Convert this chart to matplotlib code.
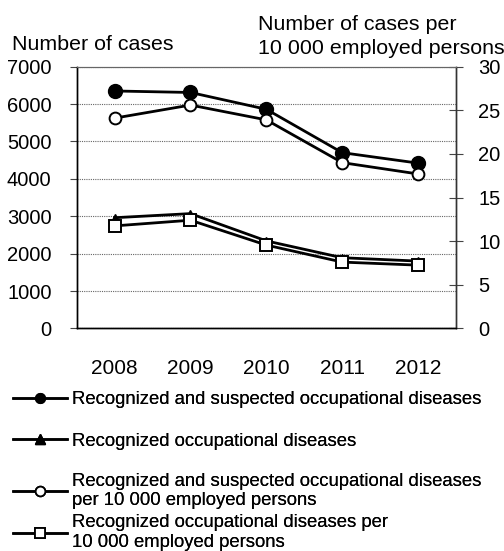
import matplotlib
matplotlib.use("Agg")
import matplotlib.pyplot as plt
from matplotlib.lines import Line2D

plt.rcParams['font.family'] = ['Liberation Sans', 'DejaVu Sans']

years = ["2008", "2009", "2010", "2011", "2012"]
rec_susp = [6350, 6310, 5860, 4700, 4420]
rec = [2960, 3070, 2340, 1890, 1800]
rec_susp_rate = [24.1, 25.6, 23.9, 19.0, 17.7]
rec_rate = [11.75, 12.4, 9.55, 7.6, 7.25]
left_ticks = [0, 1000, 2000, 3000, 4000, 5000, 6000, 7000]
right_ticks = [0, 5, 10, 15, 20, 25, 30]
labels = ["Recognized and suspected occupational diseases",
          "Recognized occupational diseases",
          "Recognized and suspected occupational diseases\nper 10 000 employed persons",
          "Recognized occupational diseases per\n10 000 employed persons"]

fig = plt.figure(figsize=(5.04, 5.51), dpi=100)
ax = fig.add_axes([0.152, 0.404, 0.753, 0.475])
ax2 = ax.twinx()
ax.set_zorder(1); ax2.set_zorder(2)
ax2.patch.set_visible(False)

x = list(range(len(years)))
lw = 2.0
ax.plot(x, rec_susp, color='black', lw=lw, marker='o', ms=10, mfc='black', mec='black', zorder=3)
ax.plot(x, rec, color='black', lw=lw, marker='^', ms=6, mfc='black', mec='black', zorder=3)
ax2.plot(x, rec_susp_rate, color='black', lw=lw, marker='o', ms=8.5, mfc='white', mec='black', mew=1.4, zorder=3)
ax2.plot(x, rec_rate, color='black', lw=lw, marker='s', ms=9, mfc='white', mec='black', mew=1.4, zorder=3)

ax.set_xlim(-0.5, 4.5)
ax.set_ylim(0, 7000)
ax2.set_ylim(0, 30)
ax.set_yticks(left_ticks)
ax2.set_yticks(right_ticks)
ax.set_xticks(x)
ax.set_xticklabels(years)
ax.tick_params(axis='x', length=0, pad=22, labelsize=15)
ax.tick_params(axis='y', direction='out', length=5, width=0.8, color='#444444', pad=13, labelsize=14.5)
ax2.tick_params(axis='y', direction='inout', length=10, width=0.8, color='#444444', pad=11, labelsize=14.5)

ax.grid(axis='y', color='#666666', lw=0.8, ls=(0, (1, 1)))
ax.set_axisbelow(True)
for a in (ax, ax2):
    a.spines['top'].set_color('#666666')
    a.spines['top'].set_linewidth(0.8)
    a.spines['left'].set_linewidth(1.0)
    a.spines['right'].set_linewidth(1.0)
    a.spines['right'].set_color('#333333')
    a.spines['bottom'].set_linewidth(1.0)

fig.text(12 / 504, 1 - 45 / 551, "Number of cases", fontsize=15.4, va='center', ha='left')
fig.text(258 / 504, 1 - 36.5 / 551, "Number of cases per\n10 000 employed persons", fontsize=15.4,
         va='center', ha='left', linespacing=1.3)

handles = [
    Line2D([], [], color='black', lw=1.8, marker='o', ms=7, mfc='black', mec='black'),
    Line2D([], [], color='black', lw=1.8, marker='^', ms=6.5, mfc='black', mec='black'),
    Line2D([], [], color='black', lw=1.8, marker='o', ms=7, mfc='white', mec='black', mew=1.3),
    Line2D([], [], color='black', lw=1.8, marker='s', ms=7, mfc='white', mec='black', mew=1.3),
]
ycent = [400, 441, 491, 532.5]
for h, lab, yc in zip(handles, labels, ycent):
    leg = fig.legend([h], [lab], loc='center left', bbox_to_anchor=(13 / 504, 1 - yc / 551),
                     frameon=False, fontsize=13.3, handlelength=2.9, handletextpad=0.27,
                     borderpad=0, borderaxespad=0)
    fig.add_artist(leg)

fig.savefig("out.png", dpi=100)
